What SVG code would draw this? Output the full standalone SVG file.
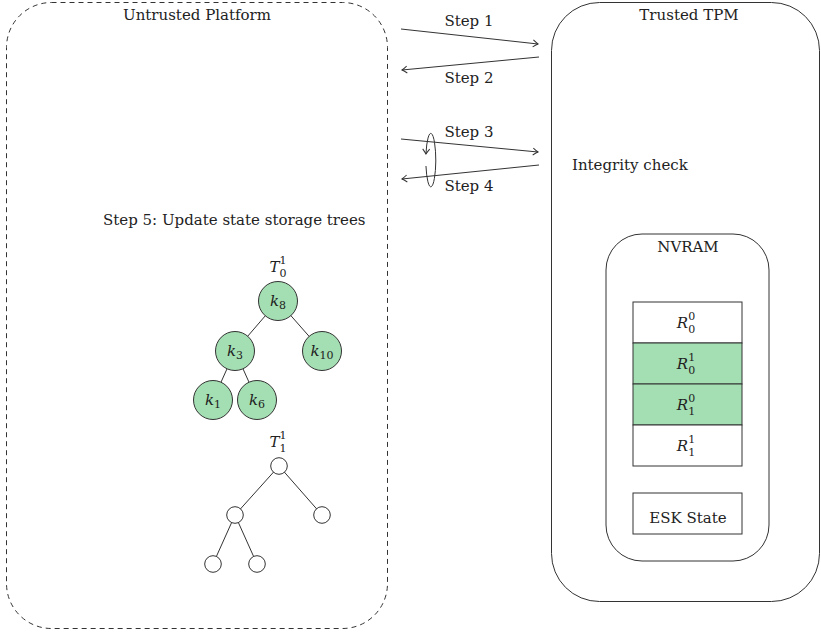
<svg xmlns="http://www.w3.org/2000/svg" width="821" height="633" viewBox="0 0 821 633">
  <style>
    text { font-family: "DejaVu Serif", serif; font-size: 15px; fill: #222; }
    .c { text-anchor: middle; }
    .m { font-style: italic; }
    .sub { font-size: 11px; font-style: normal; }
    .box { fill: none; stroke: #333; stroke-width: 1; }
    .dash { fill: none; stroke: #333; stroke-width: 1; stroke-dasharray: 5 4; }
    .edge { fill: none; stroke: #333; stroke-width: 1; }
    .key { fill: #a3dfb2; stroke: #333; stroke-width: 1; }
    .empty { fill: #fff; stroke: #333; stroke-width: 1; }
    .reg { fill: #fff; stroke: #333; stroke-width: 1; }
    .reg.on { fill: #a3dfb2; }
  </style>
  <defs>
    <marker id="arrow" markerUnits="userSpaceOnUse" markerWidth="10" markerHeight="10" viewBox="-6 -5 8 10" refX="0" refY="0" orient="auto">
      <path d="M -5 -3.5 Q -1.5 -0.8 0 0 Q -1.5 0.8 -5 3.5" fill="none" stroke="#333" stroke-width="1"/>
    </marker>
  </defs>

  <!-- platform side -->
  <g id="untrusted-platform">
    <rect class="dash" x="6.5" y="2.5" width="381" height="626" rx="45" ry="45"/>
    <text class="c" x="197" y="20">Untrusted Platform</text>
    <text x="103" y="225">Step 5: Update state storage trees</text>
  </g>

  <!-- TPM side -->
  <g id="trusted-tpm">
    <rect class="box" x="551.5" y="2.5" width="268" height="599" rx="48" ry="48"/>
    <text class="c" x="689" y="20">Trusted TPM</text>
    <text x="572" y="170">Integrity check</text>
  </g>

  <g id="nvram">
    <rect class="box" x="606" y="234" width="163" height="327" rx="36" ry="36"/>
    <text class="c" x="688" y="252">NVRAM</text>
  </g>

  <g id="reg-r00">
    <rect class="reg" x="633" y="302" width="109" height="41"/>
    <text class="c m" x="686" y="328">R<tspan class="sub" dy="5">0</tspan><tspan class="sub" dx="-7" dy="-13">0</tspan></text>
  </g>
  <g id="reg-r01">
    <rect class="reg on" x="633" y="343" width="109" height="41"/>
    <text class="c m" x="686" y="369">R<tspan class="sub" dy="5">0</tspan><tspan class="sub" dx="-7" dy="-13">1</tspan></text>
  </g>
  <g id="reg-r10">
    <rect class="reg on" x="633" y="384" width="109" height="41"/>
    <text class="c m" x="686" y="410">R<tspan class="sub" dy="5">1</tspan><tspan class="sub" dx="-7" dy="-13">0</tspan></text>
  </g>
  <g id="reg-r11">
    <rect class="reg" x="633" y="425" width="109" height="41"/>
    <text class="c m" x="686" y="451">R<tspan class="sub" dy="5">1</tspan><tspan class="sub" dx="-7" dy="-13">1</tspan></text>
  </g>
  <g id="esk-state">
    <rect class="reg" x="633" y="493" width="109" height="41"/>
    <text class="c" x="688" y="523">ESK State</text>
  </g>

  <!-- messages between platform and TPM -->
  <g id="connectors">
    <path class="edge" d="M401 29 L538 44" marker-end="url(#arrow)"/>
    <path class="edge" d="M539 57 L402 70" marker-end="url(#arrow)"/>
    <path class="edge" d="M401 139 L538 152" marker-end="url(#arrow)"/>
    <path class="edge" d="M539 165 L402 179" marker-end="url(#arrow)"/>
    <!-- loop around steps 3 and 4 -->
    <path class="edge" d="M425.96 166 A5 27.5 0 0 0 435.8 161 A5 27.5 0 0 0 425.96 154" marker-end="url(#arrow)"/>

    <!-- tree T0 edges -->
    <line class="edge" x1="278" y1="301" x2="235" y2="351"/>
    <line class="edge" x1="278" y1="301" x2="322" y2="351"/>
    <line class="edge" x1="235" y1="351" x2="213" y2="400"/>
    <line class="edge" x1="235" y1="351" x2="257" y2="400"/>
    <!-- tree T1 edges -->
    <line class="edge" x1="279" y1="466" x2="235" y2="515"/>
    <line class="edge" x1="279" y1="466" x2="322" y2="515"/>
    <line class="edge" x1="235" y1="515" x2="213" y2="564"/>
    <line class="edge" x1="235" y1="515" x2="257" y2="564"/>
  </g>

  <g id="step-labels">
    <text class="c" x="469" y="26">Step 1</text>
    <text class="c" x="469" y="83">Step 2</text>
    <text class="c" x="469" y="137">Step 3</text>
    <text class="c" x="469" y="191">Step 4</text>
  </g>

  <!-- tree T0 -->
  <g id="tree-t0-label">
    <text class="c m" x="278" y="272">T<tspan class="sub" dy="5">0</tspan><tspan class="sub" dx="-7" dy="-13">1</tspan></text>
  </g>
  <g id="k8"><circle class="key" cx="278" cy="301" r="19.5"/><text class="c m" x="278" y="306">k<tspan class="sub" dy="3">8</tspan></text></g>
  <g id="k3"><circle class="key" cx="235" cy="351" r="19.5"/><text class="c m" x="235" y="356">k<tspan class="sub" dy="3">3</tspan></text></g>
  <g id="k10"><circle class="key" cx="322" cy="351" r="19.5"/><text class="c m" x="322" y="356">k<tspan class="sub" dy="3">10</tspan></text></g>
  <g id="k1"><circle class="key" cx="213" cy="400" r="19.5"/><text class="c m" x="213" y="405">k<tspan class="sub" dy="3">1</tspan></text></g>
  <g id="k6"><circle class="key" cx="257" cy="400" r="19.5"/><text class="c m" x="257" y="405">k<tspan class="sub" dy="3">6</tspan></text></g>

  <!-- tree T1 -->
  <g id="tree-t1-label">
    <text class="c m" x="278" y="447">T<tspan class="sub" dy="5">1</tspan><tspan class="sub" dx="-7" dy="-13">1</tspan></text>
  </g>
  <g id="t1-root"><circle class="empty" cx="279" cy="466" r="8.3"/></g>
  <g id="t1-left"><circle class="empty" cx="235" cy="515" r="8.3"/></g>
  <g id="t1-right"><circle class="empty" cx="322" cy="515" r="8.3"/></g>
  <g id="t1-ll"><circle class="empty" cx="213" cy="564" r="8.3"/></g>
  <g id="t1-lr"><circle class="empty" cx="257" cy="564" r="8.3"/></g>
</svg>
